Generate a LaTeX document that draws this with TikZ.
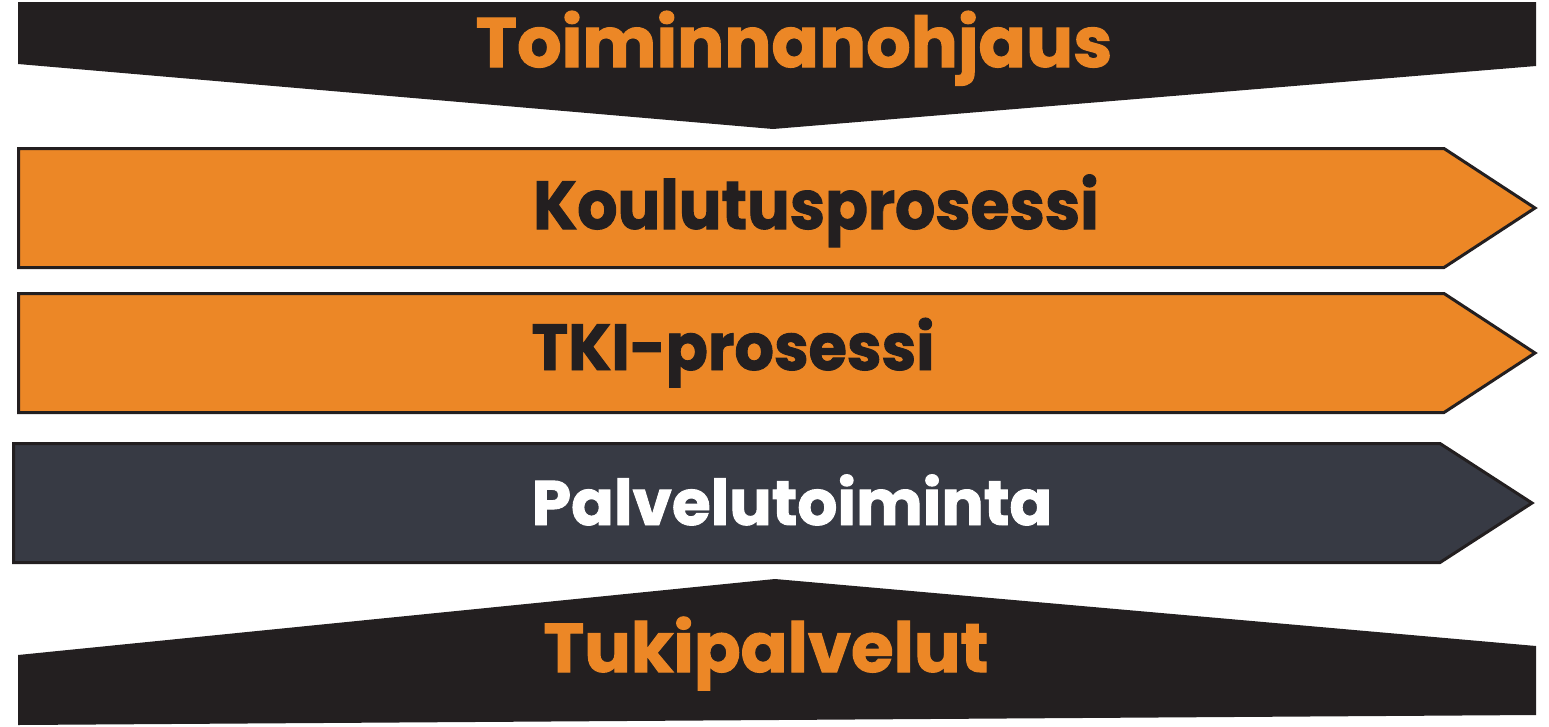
\documentclass[tikz,border=0pt]{standalone}
\usepackage{fontspec}
\usepackage{graphicx}
\setmainfont{Poppins}[BoldFeatures={FakeBold=1.5}]
\definecolor{inkblack}{HTML}{231F20}
\definecolor{procorange}{HTML}{EC8726}
\definecolor{slategray}{HTML}{373A44}
\begin{document}
\begin{tikzpicture}[x=1pt,y=-1pt,
  bandshape/.style={fill=inkblack,draw=none},
  arrowshape/.style={draw=inkblack,line width=3pt,line join=miter},
  orangearrow/.style={arrowshape,fill=procorange},
  grayarrow/.style={arrowshape,fill=slategray},
  bandlabel/.style={anchor=base,inner sep=0pt}]
\useasboundingbox (0,0) rectangle (1549,726);
% top band
\fill[bandshape] (18,2) -- (1536,2) -- (1536,66) -- (773,129) -- (18,64) -- cycle;
% process arrows
\draw[orangearrow] (18.5,148.5) -- (1444,148.5) -- (1535,208) -- (1444,267.5) -- (18.5,267.5) -- cycle;
\draw[orangearrow] (18.5,293.5) -- (1444,293.5) -- (1535,353) -- (1444,412.5) -- (18.5,412.5) -- cycle;
\draw[grayarrow] (13.5,443.5) -- (1440,443.5) -- (1532,503) -- (1440,562.5) -- (13.5,562.5) -- cycle;
% bottom band
\fill[bandshape] (18,655) -- (775,579) -- (1536,646) -- (1536,715) -- (18,725) -- cycle;
% labels
\node[bandlabel,text=procorange,font=\fontsize{70}{70}\selectfont\bfseries] (toim) at (794,67) {Toiminnanohjaus};
\node[bandlabel,text=inkblack,font=\fontsize{68}{68}\selectfont\bfseries] (koul) at (816,229) {\scalebox{0.93}[1]{Koulutusprosessi}};
\node[bandlabel,text=inkblack,font=\fontsize{65}{65}\selectfont\bfseries] (tki) at (733,370) {\scalebox{0.955}[1]{TKI-prosessi}};
\node[bandlabel,text=white,font=\fontsize{63}{63}\selectfont\bfseries] (palv) at (792,525) {Palvelutoiminta};
\node[bandlabel,text=procorange,font=\fontsize{69}{69}\selectfont\bfseries] (tuki) at (766,672) {Tukipalvelut};
\end{tikzpicture}
\end{document}
